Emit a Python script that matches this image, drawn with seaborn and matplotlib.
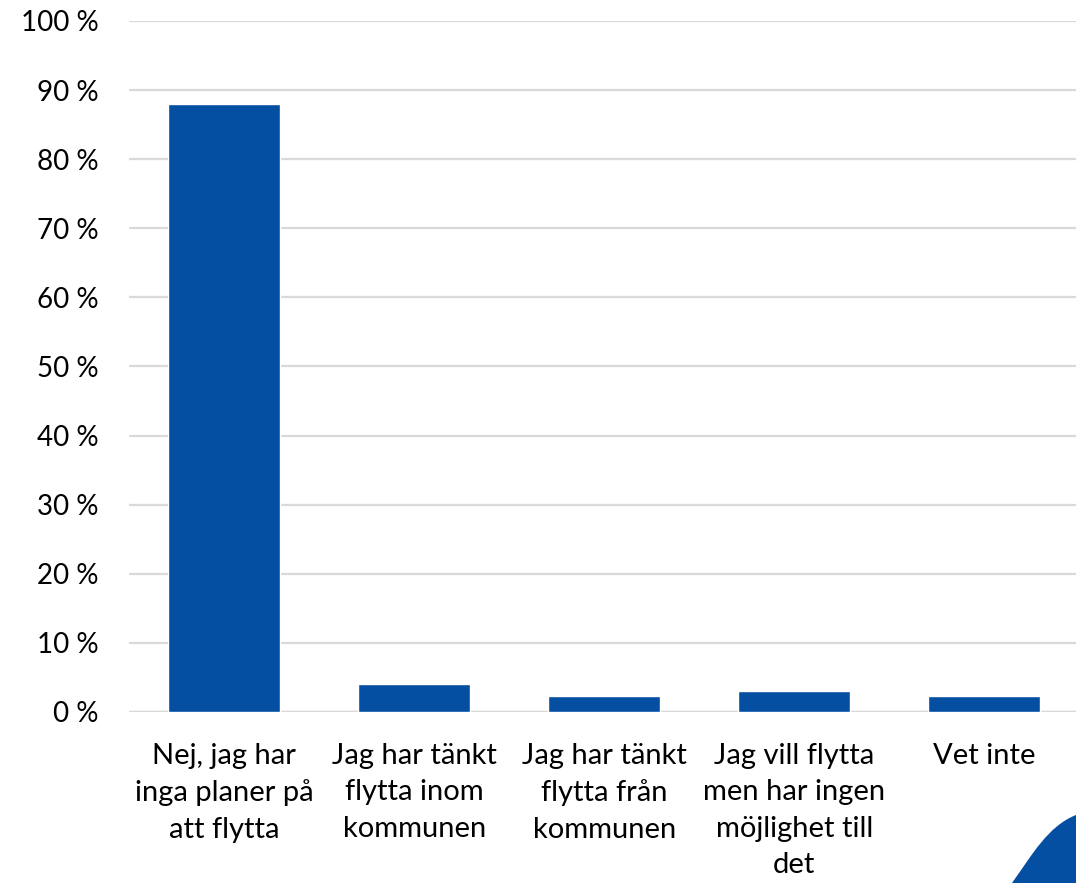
import matplotlib
matplotlib.use("Agg")
import matplotlib.pyplot as plt
import seaborn as sns
import pandas as pd
from matplotlib.path import Path
from matplotlib.patches import PathPatch

# ----- Data ----- #
categories = [
    "Nej, jag har\ninga planer på\natt flytta",
    "Jag har tänkt\nflytta inom\nkommunen",
    "Jag har tänkt\nflytta från\nkommunen",
    "Jag vill flytta\nmen har ingen\nmöjlighet till\ndet",
    "Vet inte",
]
shares = [88.0, 4.0, 2.3, 3.1, 2.3]
y_ticks = [0, 10, 20, 30, 40, 50, 60, 70, 80, 90, 100]

df = pd.DataFrame({"Svar": categories, "Andel": shares})

sns.set_theme(style="white")
plt.rcParams['font.family'] = ['Lato', 'DejaVu Sans']

fig = plt.figure(figsize=(10.76, 8.83), dpi=100)
ax = fig.add_axes([0.12, 0.1937, 0.883, 0.7826])

# gridlines behind bars
ax.set_axisbelow(True)
ax.yaxis.grid(True, color='#d9d9d9', linewidth=1.6)

sns.barplot(data=df, x='Svar', y='Andel', color='#044fa2', saturation=1,
            width=0.59, ax=ax)

ax.set_ylim(0, 100)
ax.set_xlim(-0.5, 4.5)
ax.set_yticks(y_ticks)
ax.set_yticklabels([f"{t} %" for t in y_ticks])
ax.tick_params(axis='y', labelsize=20, length=0, pad=22, colors='black')
ax.tick_params(axis='x', labelsize=21, length=0, pad=22, colors='black')
for lbl in ax.get_xticklabels():
    lbl.set_linespacing(1.5)
    lbl.set_va('top')
ax.set_xlabel('')
ax.set_ylabel('')
sns.despine(ax=ax, left=True, bottom=True)

# zero line slightly stronger
ax.axhline(0, color='#d9d9d9', linewidth=2.5, zorder=0.5)

# decorative shape bottom right corner (in figure pixels)
W, H = 1076, 883
verts = [(1012, 883), (1032, 855), (1048, 826), (1076, 815), (1076, 883), (1012, 883)]
codes = [Path.MOVETO, Path.CURVE4, Path.CURVE4, Path.CURVE4, Path.LINETO, Path.CLOSEPOLY]
verts = [(x / W, 1 - y / H) for x, y in verts]
fig.patches.append(PathPatch(Path(verts, codes), transform=fig.transFigure,
                             facecolor='#044fa2', edgecolor='none'))

fig.savefig('out.png', dpi=100)
